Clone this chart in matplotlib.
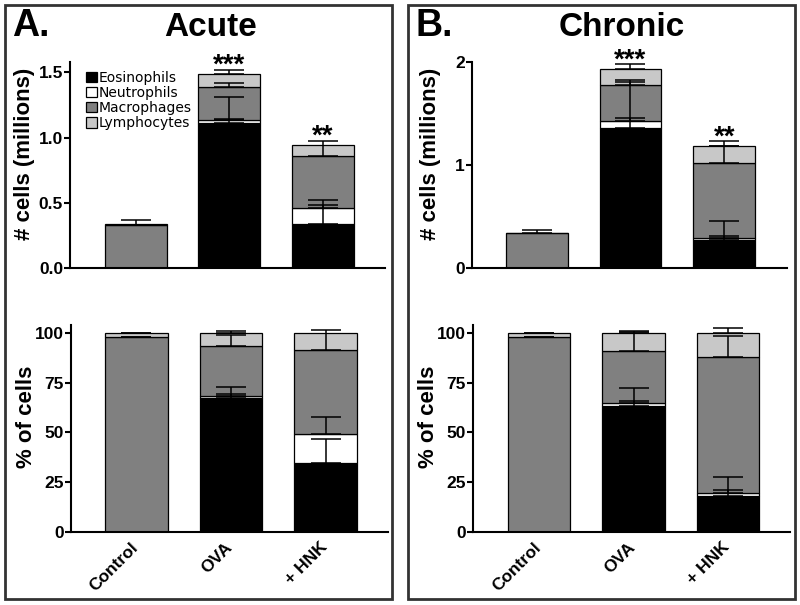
import numpy as np
import matplotlib
matplotlib.use("Agg")
import matplotlib.pyplot as plt
from matplotlib.patches import Rectangle, Patch
from matplotlib.transforms import ScaledTranslation

plt.rcParams["font.family"] = ["Liberation Sans", "DejaVu Sans"]
plt.rcParams["font.weight"] = "bold"

groups = ["Control", "OVA", "+ HNK"]
cell_types = ["Eosinophils", "Neutrophils", "Macrophages", "Lymphocytes"]
cell_colors = ["#000000", "#ffffff", "#808080", "#c8c8c8"]

# segment heights (millions), order: eos, neutro, macro, lymph
acute_eos = [0.0, 1.112, 0.337]
acute_neu = [0.0, 0.020, 0.123]
acute_mac = [0.333, 0.256, 0.401]
acute_lym = [0.004, 0.102, 0.079]
acute_eos_err = [0.0, 0.199, 0.187]
acute_neu_err = [0.0, 0.013, 0.026]
acute_mac_err = [0.034, 0.030, 0.115]
acute_lym_err = [0.0, 0.025, 0.0]

chronic_eos = [0.0, 1.361, 0.268]
chronic_neu = [0.0, 0.068, 0.026]
chronic_mac = [0.335, 0.352, 0.722]
chronic_lym = [0.004, 0.154, 0.168]
chronic_eos_err = [0.0, 0.460, 0.184]
chronic_neu_err = [0.0, 0.023, 0.012]
chronic_mac_err = [0.038, 0.020, 0.171]
chronic_lym_err = [0.0, 0.049, 0.051]

# percent of cells
acute_pct_eos = [0.0, 67.3, 34.7]
acute_pct_neu = [0.0, 1.2, 14.7]
acute_pct_mac = [97.8, 25.1, 42.2]
acute_pct_lym = [2.2, 6.4, 8.4]
acute_pct_eos_err = [0.0, 5.6, 12.2]
acute_pct_neu_err = [0.0, 0.8, 8.4]
acute_pct_mac_err = [0.3, 5.6, 10.1]
acute_pct_lym_err = [0.2, 0.8, 0.0]

chronic_pct_eos = [0.0, 63.5, 18.3]
chronic_pct_neu = [0.0, 1.3, 1.3]
chronic_pct_mac = [97.8, 26.3, 68.2]
chronic_pct_lym = [2.2, 8.9, 12.2]
chronic_pct_eos_err = [0.0, 8.9, 9.3]
chronic_pct_neu_err = [0.0, 0.9, 1.3]
chronic_pct_mac_err = [0.3, 9.4, 10.9]
chronic_pct_lym_err = [0.2, 1.0, 2.5]

acute_stars = ["", "***", "**"]
chronic_stars = ["", "***", "**"]

W, H = 800, 605


def add_axes_px(fig, left, right, top, bottom):
    return fig.add_axes([left / W, 1 - bottom / H, (right - left) / W, (bottom - top) / H])


def draw_stack(ax, segs, errs, xlim, ylim, yticks, ticklabels, ylabel, label_x, show_x):
    x = np.arange(len(groups))
    bottom = np.zeros(len(groups))
    tops = []
    for vals, color in zip(segs, cell_colors):
        vals = np.array(vals)
        ax.bar(x, vals, width=0.66, bottom=bottom, color=color,
               edgecolor="black", linewidth=0.9, zorder=2)
        bottom = bottom + vals
        tops.append(bottom.copy())
    for top, err in zip(tops, errs):
        for xi, t, e in zip(x, top, err):
            if e > 0:
                ax.errorbar(xi, t, yerr=[[0], [e]], fmt="none", ecolor="black",
                            elinewidth=1.1, capsize=11, capthick=1.1, zorder=3)
    ax.set_xlim(*xlim)
    ax.set_ylim(*ylim)
    ax.set_yticks(yticks)
    ax.set_yticklabels(ticklabels, fontsize=12.5, fontweight="bold")
    ax.spines["top"].set_visible(False)
    ax.spines["right"].set_visible(False)
    ax.spines["left"].set_linewidth(1.5)
    ax.spines["bottom"].set_linewidth(1.5)
    ax.tick_params(axis="y", length=4, width=1.5, pad=1)
    ax.set_ylabel(ylabel, fontsize=16, fontweight="bold")
    ax.yaxis.set_label_coords(label_x, 0.555)
    if show_x:
        ax.set_xticks(x)
        ax.set_xticklabels(groups, rotation=45, ha="right", rotation_mode="anchor",
                           fontsize=12.5, fontweight="bold")
        ax.tick_params(axis="x", length=0, pad=5.5)
        shift = ScaledTranslation(-6 / 100, 0, fig.dpi_scale_trans)
        for lab in ax.get_xticklabels():
            lab.set_transform(lab.get_transform() + shift)
    else:
        ax.set_xticks([])
    return tops


def add_stars(ax, stars, tops):
    for xi, s, t in zip(range(len(groups)), stars, tops):
        if s:
            ax.annotate(s, (xi, t), xytext=(0, 6), textcoords="offset points",
                        ha="center", va="center", fontsize=20, fontweight="bold",
                        annotation_clip=False)


fig = plt.figure(figsize=(W / 100, H / 100), dpi=100)

# panel frames
for left in (5, 408):
    fig.patches.append(Rectangle((left / W, 1 - 599 / H), 387 / W, 594 / H,
                                 transform=fig.transFigure, fill=False,
                                 linewidth=2, edgecolor="#333333"))

fig.text(12 / W, 1 - 26 / H, "A.", fontsize=27, fontweight="bold", ha="left", va="center")
fig.text(211 / W, 1 - 27 / H, "Acute", fontsize=24, fontweight="bold", ha="center", va="center")
fig.text(415 / W, 1 - 26 / H, "B.", fontsize=27, fontweight="bold", ha="left", va="center")
fig.text(622 / W, 1 - 27 / H, "Chronic", fontsize=24, fontweight="bold", ha="center", va="center")

# Acute counts
ax1 = add_axes_px(fig, 70, 385, 62, 268)
tops1 = draw_stack(ax1, [acute_eos, acute_neu, acute_mac, acute_lym],
                   [acute_eos_err, acute_neu_err, acute_mac_err, acute_lym_err],
                   (-0.70, 2.66), (0, 1.58), [0, 0.5, 1.0, 1.5],
                   ["0.0", "0.5", "1.0", "1.5"], "# cells (millions)", -0.112, False)
add_stars(ax1, acute_stars, tops1[-1])
handles = [Patch(facecolor=c, edgecolor="black", linewidth=0.9) for c in cell_colors]
ax1.legend(handles, cell_types, loc="upper left", bbox_to_anchor=(0.03, 0.99),
           frameon=False, borderpad=0, handlelength=0.75, handleheight=0.75,
           handletextpad=0.15, labelspacing=0.08,
           prop={"family": "DejaVu Sans", "size": 10, "weight": "normal"})

# Chronic counts
ax2 = add_axes_px(fig, 472, 787, 62, 268)
tops2 = draw_stack(ax2, [chronic_eos, chronic_neu, chronic_mac, chronic_lym],
                   [chronic_eos_err, chronic_neu_err, chronic_mac_err, chronic_lym_err],
                   (-0.69, 2.67), (0, 2.0), [0, 1, 2], ["0", "1", "2"],
                   "# cells (millions)", -0.098, False)
add_stars(ax2, chronic_stars, tops2[-1])

# Acute percent
ax3 = add_axes_px(fig, 71, 388, 325, 532)
draw_stack(ax3, [acute_pct_eos, acute_pct_neu, acute_pct_mac, acute_pct_lym],
           [acute_pct_eos_err, acute_pct_neu_err, acute_pct_mac_err, acute_pct_lym_err],
           (-0.69, 2.66), (0, 104), [0, 25, 50, 75, 100],
           ["0", "25", "50", "75", "100"], "% of cells", -0.107, True)

# Chronic percent
ax4 = add_axes_px(fig, 473, 790, 325, 532)
draw_stack(ax4, [chronic_pct_eos, chronic_pct_neu, chronic_pct_mac, chronic_pct_lym],
           [chronic_pct_eos_err, chronic_pct_neu_err, chronic_pct_mac_err, chronic_pct_lym_err],
           (-0.70, 2.656), (0, 104), [0, 25, 50, 75, 100],
           ["0", "25", "50", "75", "100"], "% of cells", -0.107, True)

fig.savefig("out.png", dpi=100)
